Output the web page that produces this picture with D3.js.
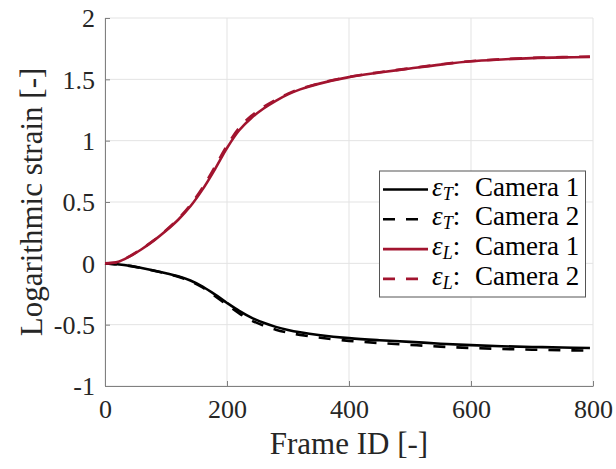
<!DOCTYPE html>
<html>
<head>
<meta charset="utf-8">
<script src="https://cdn.jsdelivr.net/npm/d3@7"></script>
<style>
  html, body { margin: 0; padding: 0; background: #fff; }
  svg { display: block; }
</style>
</head>
<body>
<svg id="chart" width="616" height="469"></svg>
<script>
// ---- data ----
const frames = [0, 20, 40, 60, 80, 100, 120, 140, 160, 180, 200, 220, 240, 260, 280, 300, 320, 350, 400, 450, 500, 550, 600, 650, 700, 750, 795];
const epsT_cam1 = [0, -0.008, -0.02, -0.038, -0.058, -0.08, -0.105, -0.14, -0.19, -0.253, -0.323, -0.388, -0.443, -0.485, -0.518, -0.543, -0.562, -0.584, -0.61, -0.627, -0.64, -0.655, -0.667, -0.676, -0.682, -0.686, -0.69];
const epsT_cam2 = [0, -0.008, -0.021, -0.039, -0.06, -0.083, -0.109, -0.146, -0.197, -0.265, -0.338, -0.408, -0.466, -0.507, -0.541, -0.565, -0.583, -0.605, -0.632, -0.65, -0.665, -0.679, -0.69, -0.698, -0.704, -0.708, -0.712];
const epsL_cam1 = [0, 0.01, 0.055, 0.115, 0.185, 0.265, 0.355, 0.465, 0.603, 0.765, 0.94, 1.085, 1.185, 1.262, 1.325, 1.377, 1.418, 1.463, 1.518, 1.555, 1.588, 1.62, 1.647, 1.662, 1.673, 1.679, 1.682];
const epsL_cam2 = [0, 0.01, 0.057, 0.118, 0.188, 0.27, 0.363, 0.476, 0.617, 0.785, 0.96, 1.105, 1.203, 1.275, 1.333, 1.383, 1.422, 1.466, 1.52, 1.558, 1.59, 1.622, 1.648, 1.664, 1.675, 1.681, 1.685];
const xTicks = [0, 200, 400, 600, 800];
const yTicks = [-1, -0.5, 0, 0.5, 1, 1.5, 2];
const yTickLabels = ["-1", "-0.5", "0", "0.5", "1", "1.5", "2"];
const seriesNames = ["T", "T", "L", "L"];
const seriesCams = ["Camera 1", "Camera 2", "Camera 1", "Camera 2"];
const seriesValues = [epsT_cam1, epsT_cam2, epsL_cam1, epsL_cam2];
const seriesColors = ["#000000", "#000000", "#A2142F", "#A2142F"];
const seriesDashed = [false, true, false, true];
const xLabel = "Frame ID [-]";
const yLabel = "Logarithmic strain [-]";

// ---- layout ----
const svg = d3.select("#chart");
const L = 105, R = 593, T = 18, B = 386;
const FONT = "'Liberation Serif', 'Times New Roman', serif";
const x = d3.scaleLinear().domain([0, 800]).range([L, R]);
const y = d3.scaleLinear().domain([-1, 2]).range([B, T]);

// grid
const grid = svg.append("g");
grid.selectAll("line.gx").data(xTicks).enter().append("line")
  .attr("x1", d => x(d)).attr("x2", d => x(d)).attr("y1", T).attr("y2", B)
  .attr("stroke", "#e3e3e3").attr("stroke-width", 1);
grid.selectAll("line.gy").data(yTicks).enter().append("line")
  .attr("x1", L).attr("x2", R).attr("y1", d => y(d)).attr("y2", d => y(d))
  .attr("stroke", "#e3e3e3").attr("stroke-width", 1);

// axes
const axisColor = "#808080";
const xAxis = svg.append("g").attr("transform", `translate(0,${B})`)
  .call(d3.axisBottom(x).tickValues(xTicks).tickSizeInner(-5).tickSizeOuter(0).tickPadding(14));
const yAxis = svg.append("g").attr("transform", `translate(${L},0)`)
  .call(d3.axisLeft(y).tickValues(yTicks).tickFormat((d, i) => yTickLabels[i]).tickSizeInner(-5).tickSizeOuter(0).tickPadding(10));
[xAxis, yAxis].forEach(a => {
  a.attr("font-family", FONT);
  a.select(".domain").attr("stroke", axisColor).attr("stroke-width", 1);
  a.selectAll(".tick line").attr("stroke", axisColor);
  a.selectAll(".tick text").attr("fill", "#262626").style("font-family", FONT).style("font-size", "26px");
});
xAxis.selectAll(".tick text").attr("dy", "0.7em");
yAxis.selectAll(".tick text").attr("dy", "0.34em");

// axis labels
svg.append("text").attr("x", (L + R) / 2).attr("y", 454).attr("text-anchor", "middle")
  .style("font-family", FONT).style("font-size", "31px").attr("fill", "#262626").text(xLabel);
svg.append("text").attr("transform", `translate(42,${(T + B) / 2}) rotate(-90)`).attr("text-anchor", "middle")
  .style("font-family", FONT).style("font-size", "31px").attr("fill", "#262626").text(yLabel);

// lines
const line = d3.line().x(d => x(d[0])).y(d => y(d[1])).curve(d3.curveCatmullRom.alpha(0.5));
seriesValues.forEach((vals, i) => {
  svg.append("path").datum(frames.map((f, j) => [f, vals[j]]))
    .attr("d", line).attr("fill", "none")
    .attr("stroke", seriesColors[i]).attr("stroke-width", 2.6)
    .attr("stroke-dasharray", seriesDashed[i] ? "12,11" : null);
});

// legend
const lg = svg.append("g");
const lx0 = 379.5, ly0 = 171, lw = 206, lh = 126;
lg.append("rect").attr("x", lx0).attr("y", ly0).attr("width", lw).attr("height", lh)
  .attr("fill", "#fff").attr("stroke", "#555").attr("stroke-width", 1);
seriesValues.forEach((v, i) => {
  const yy = 189.5 + i * 29.8;
  lg.append("line").attr("x1", 383).attr("x2", 428).attr("y1", yy).attr("y2", yy)
    .attr("stroke", seriesColors[i]).attr("stroke-width", 2.6)
    .attr("stroke-dasharray", seriesDashed[i] ? "12,11" : null);
  const t = lg.append("text").attr("x", 432).attr("y", yy + 6)
    .style("font-family", FONT).style("font-size", "27px").attr("fill", "#000");
  t.append("tspan").style("font-style", "italic").text("ε");
  t.append("tspan").style("font-style", "italic").style("font-size", "18px").attr("dy", 4).text(seriesNames[i]);
  t.append("tspan").attr("dy", -4).text(":");
  t.append("tspan").attr("x", 475).text(seriesCams[i]);
});
</script>
</body>
</html>
